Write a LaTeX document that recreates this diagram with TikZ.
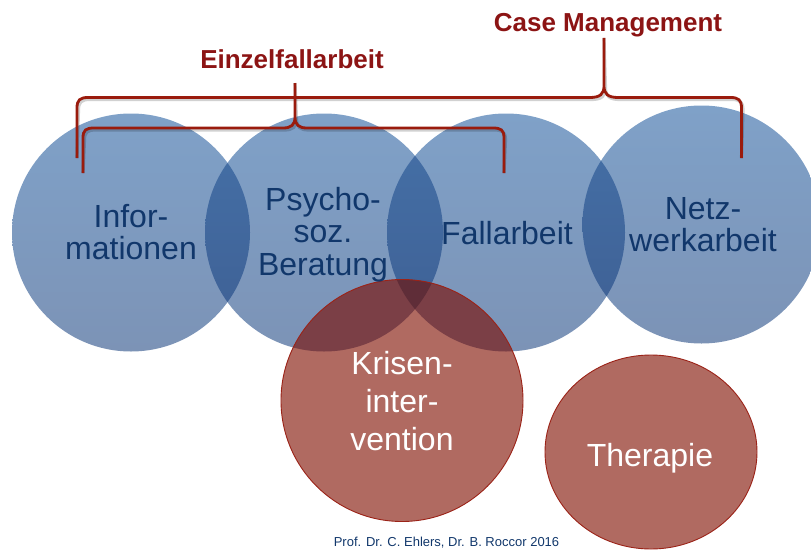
\documentclass[tikz,border=0pt]{standalone}
\usepackage{fontspec}
\setmainfont{Liberation Sans}
\definecolor{blueT}{HTML}{7FA1C8}
\definecolor{blueB}{HTML}{7C93B6}
\definecolor{lensT}{HTML}{4571A8}
\definecolor{lensB}{HTML}{3E5F93}
\definecolor{redfill}{HTML}{B06A61}
\definecolor{redblue}{HTML}{7B3F46}
\definecolor{redlens}{HTML}{5F2D38}
\definecolor{redline}{HTML}{9B2318}
\definecolor{bracecol}{HTML}{9A1B0D}
\definecolor{headcol}{HTML}{8C1414}
\definecolor{navy}{HTML}{11376B}
\tikzset{
  bluetxt/.style={text=navy, font=\fontsize{32}{32.5}\selectfont, inner sep=0pt, anchor=base},
  redtxt/.style={text=white, font=\fontsize{32}{38}\selectfont, inner sep=0pt, anchor=base},
  headtxt/.style={text=headcol, font=\fontsize{26}{30}\selectfont\bfseries, inner sep=0pt, anchor=base},
  bracepath/.style={draw=bracecol, line width=2.8pt},
  braceshadow/.style={draw=black, opacity=0.18, line width=3.2pt},
  blueshade/.style={top color=blueT, bottom color=blueB},
  lensshade/.style={top color=lensT, bottom color=lensB},
}
\begin{document}
\begin{tikzpicture}[x=1pt,y=-1pt]
\useasboundingbox (0,0) rectangle (811,551);
% centres
\coordinate (c1) at (131,232.5);
\coordinate (c2) at (324,232.5);
\coordinate (c3) at (506,232.5);
\coordinate (c4) at (701.5,224.5);
\coordinate (k) at (402,400.5);
\coordinate (t) at (651,452);
% blue circles
\foreach \c in {c1,c2,c3,c4} {\shade[blueshade] (\c) circle[radius=119pt];}
% lenses
\begin{scope}\clip (c1) circle[radius=119pt]; \shade[lensshade] (c2) circle[radius=119pt];\end{scope}
\begin{scope}\clip (c2) circle[radius=119pt]; \shade[lensshade] (c3) circle[radius=119pt];\end{scope}
\begin{scope}\clip (c3) circle[radius=119pt]; \shade[lensshade] (c4) circle[radius=119pt];\end{scope}
% red circle Krisenintervention
\fill[redfill] (k) circle[radius=121pt];
\begin{scope}\clip (k) circle[radius=121pt];
  \fill[redblue] (c2) circle[radius=119pt];
  \fill[redblue] (c3) circle[radius=119pt];
  \clip (c2) circle[radius=119pt];
  \fill[redlens] (c3) circle[radius=119pt];
\end{scope}
\draw[redline, line width=0.9pt] (k) circle[radius=121pt];
% Therapie
\fill[redfill] (t) ellipse[x radius=106pt, y radius=97pt];
\draw[redline, line width=0.9pt] (t) ellipse[x radius=106pt, y radius=97pt];
% brace coordinates
\coordinate (oL) at (77,158);
\coordinate (oT) at (604,38);
\coordinate (oR) at (741.5,158);
\coordinate (iL) at (83,173);
\coordinate (iT) at (295,83);
\coordinate (iR) at (504,173);
% shadows of braces
\begin{scope}[shift={(1.5,2)}]
\draw[braceshadow] (oL) -- (77,108) .. controls (77,100) and (80,97.5) .. (88,97.5) -- (590,97.5) .. controls (600,97.5) and (604,94) .. (604,86) -- (oT)
  (604,86) .. controls (604,94) and (608,97.5) .. (618,97.5) -- (730.5,97.5) .. controls (738.5,97.5) and (741.5,100) .. (741.5,108) -- (oR);
\draw[braceshadow] (iL) -- (83,138) .. controls (83,130) and (86,128) .. (94,128) -- (283,128) .. controls (291,128) and (295,125) .. (295,117) -- (iT)
  (295,117) .. controls (295,125) and (299,128) .. (307,128) -- (493,128) .. controls (501,128) and (504,130) .. (504,138) -- (iR);
\end{scope}
% braces
\draw[bracepath] (oL) -- (77,108) .. controls (77,100) and (80,97.5) .. (88,97.5) -- (590,97.5) .. controls (600,97.5) and (604,94) .. (604,86) -- (oT)
  (604,86) .. controls (604,94) and (608,97.5) .. (618,97.5) -- (730.5,97.5) .. controls (738.5,97.5) and (741.5,100) .. (741.5,108) -- (oR);
\draw[bracepath] (iL) -- (83,138) .. controls (83,130) and (86,128) .. (94,128) -- (283,128) .. controls (291,128) and (295,125) .. (295,117) -- (iT)
  (295,117) .. controls (295,125) and (299,128) .. (307,128) -- (493,128) .. controls (501,128) and (504,130) .. (504,138) -- (iR);
% headings
\node[headtxt] (cm) at (608,32) {Case Management};
\node[headtxt] (ez) at (292,69) {Einzelfallarbeit};
% labels
\node[bluetxt] (inf) at (131,227) {\begin{tabular}[t]{@{}c@{}}Infor-\\mationen\end{tabular}};
\node[bluetxt] (psy) at (323,210) {\begin{tabular}[t]{@{}c@{}}Psycho-\\soz.\\Beratung\end{tabular}};
\node[bluetxt] (fall) at (507,244) {Fallarbeit};
\node[bluetxt] (netz) at (703,219) {\begin{tabular}[t]{@{}c@{}}Netz-\\werkarbeit\end{tabular}};
\node[redtxt] (kri) at (402,374) {\begin{tabular}[t]{@{}c@{}}Krisen-\\inter-\\vention\end{tabular}};
\node[redtxt] (ther) at (650,466) {Therapie};
\node[text=navy, font=\fontsize{13}{15}\selectfont, inner sep=0pt, anchor=base] (foot) at (446.5,546) {Prof. Dr. C. Ehlers, Dr. B. Roccor 2016};
\end{tikzpicture}
\end{document}
